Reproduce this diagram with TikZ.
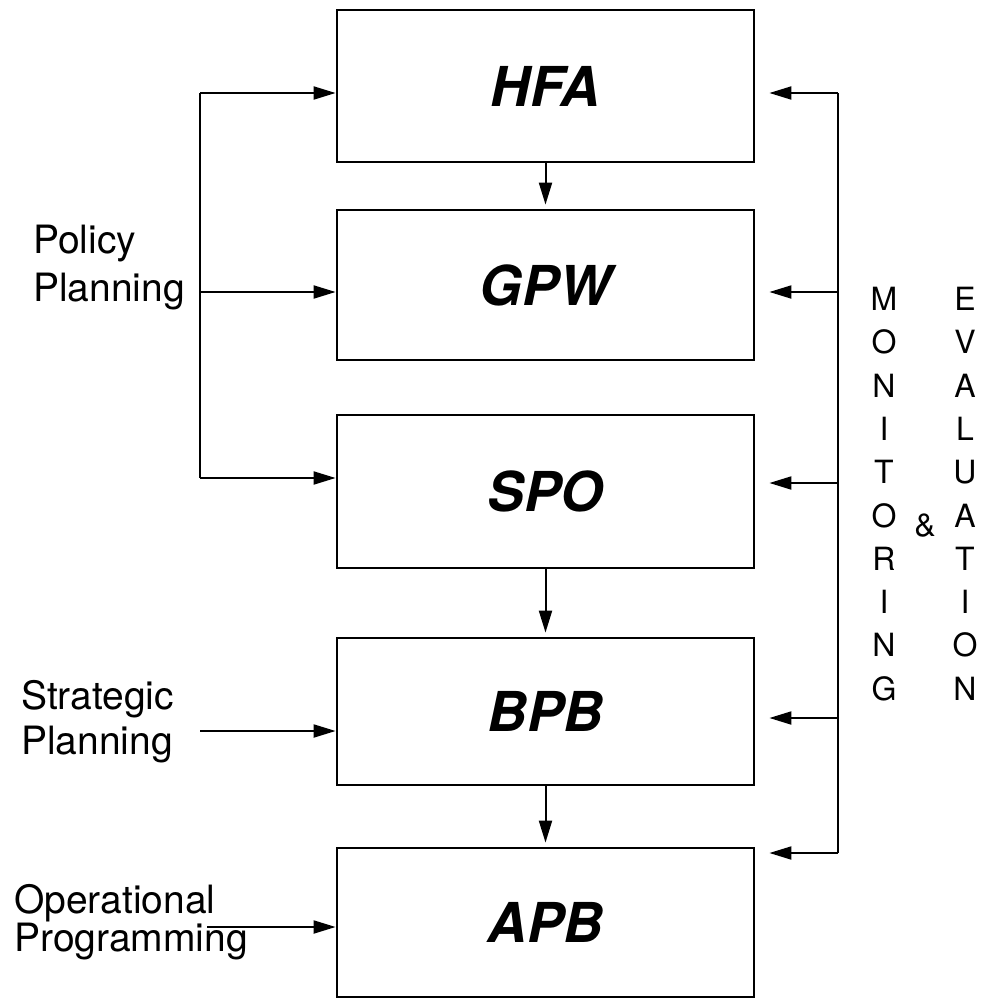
\documentclass[tikz,border=0pt]{standalone}
\usepackage{fontspec}
\setmainfont{TeX Gyre Heros}
\usetikzlibrary{arrows.meta}
\begin{document}
\begin{tikzpicture}[x=1pt,y=-1pt,
  blk/.style={draw,line width=2.8pt,minimum width=417pt,inner sep=0pt,
    font=\fontsize{55}{60}\selectfont\bfseries\itshape},
  conn/.style={line width=2pt},
  arr/.style={conn,-{Triangle[length=22pt,width=13pt]}},
  sidelbl/.style={inner sep=0pt,align=left,font=\fontsize{39}{48}\selectfont},
  col/.style={inner sep=0pt,align=center,font=\fontsize{32}{43.3}\selectfont}]
\useasboundingbox (0,0) rectangle (989,999);
% boxes
\node[blk,minimum height=152pt] (hfa) at (545.5,86) {HFA};
\node[blk,minimum height=150pt] (gpw) at (545.5,285) {GPW};
\node[blk,minimum height=153pt] (spo) at (545.5,491.5) {SPO};
\node[blk,minimum height=147pt] (bpb) at (545.5,711.5) {BPB};
\node[blk,minimum height=149pt] (apb) at (545.5,922.5) {APB};
% down arrows
\draw[arr,shorten >=4pt] (hfa.south) -- (gpw.north);
\draw[arr,shorten >=4pt] (spo.south) -- (bpb.north);
\draw[arr,shorten >=4pt] (bpb.south) -- (apb.north);
% left policy planning bracket
\coordinate (ltop) at (200,93);
\coordinate (lmid) at (200,292);
\coordinate (lbot) at (200,478);
\draw[conn] (ltop) -- (lbot);
\draw[arr] (ltop) -- (ltop -| hfa.west);
\draw[arr] (lmid) -- (lmid -| gpw.west);
\draw[arr] (lbot) -- (lbot -| spo.west);
\node[sidelbl,anchor=west] (pp) at (33,268) {Policy\\Planning};
% strategic planning
\node[sidelbl,anchor=west,font=\fontsize{39}{45}\selectfont] (sp) at (21,722) {Strategic\\Planning};
\coordinate (sps) at (200,731);
\draw[arr] (sps) -- (sps -| bpb.west);
% operational programming
\node[sidelbl,anchor=west,font=\fontsize{39}{38}\selectfont] (op) at (14,922) {Operational\\Programming};
\coordinate (ops) at (207,927);
\draw[arr] (ops) -- (ops -| apb.west);
% right monitoring line
\coordinate (r1) at (838,93);
\coordinate (r2) at (838,292);
\coordinate (r3) at (838,483);
\coordinate (r4) at (838,718);
\coordinate (r5) at (838,853);
\draw[conn] (r1) -- (r5);
\draw[arr,shorten >=14pt] (r1) -- (r1 -| hfa.east);
\draw[arr,shorten >=14pt] (r2) -- (r2 -| gpw.east);
\draw[arr,shorten >=14pt] (r3) -- (r3 -| spo.east);
\draw[arr,shorten >=14pt] (r4) -- (r4 -| bpb.east);
\draw[arr,shorten >=14pt] (r5) -- (r5 -| apb.east);
% monitoring & evaluation
\node[col,anchor=north] (mon) at (884,287) {M\\O\\N\\I\\T\\O\\R\\I\\N\\G};
\node[col,anchor=north] (eva) at (965,287) {E\\V\\A\\L\\U\\A\\T\\I\\O\\N};
\node[col] (amp) at (925,526) {\&};
\end{tikzpicture}
\end{document}
